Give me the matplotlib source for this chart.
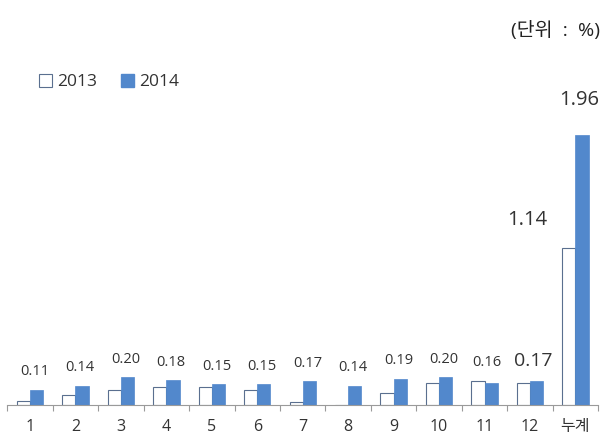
import numpy as np
import matplotlib
matplotlib.use("Agg")
from matplotlib import pyplot as plt
from matplotlib.patches import Patch

plt.rcParams['font.family'] = ['Open Sans', 'Noto Sans CJK KR', 'DejaVu Sans']

months = ["1", "2", "3", "4", "5", "6", "7", "8", "9", "10", "11", "12", "누계"]
y2013 = [0.03, 0.07, 0.11, 0.13, 0.13, 0.11, 0.02, 0.0, 0.085, 0.16, 0.17, 0.16, 1.14]
y2014 = [0.11, 0.14, 0.20, 0.18, 0.15, 0.15, 0.17, 0.14, 0.19, 0.20, 0.16, 0.17, 1.96]
labels2014 = ["0.11", "0.14", "0.20", "0.18", "0.15", "0.15", "0.17", "0.14", "0.19", "0.20", "0.16", "0.17", "1.96"]
label2013_total = "1.14"

blue = "#5288cc"
edge = "#5a6f8f"
axcol = "#9a9a9a"
txt = "#333333"

fig = plt.figure(figsize=(6.03, 4.44), dpi=100)
ax = fig.add_axes([0.012, 0.088, 0.98, 0.683])

x = np.arange(len(months))
w = 0.29
ax.bar(x - w/2, y2013, w, color="white", edgecolor=edge, linewidth=0.8)
ax.bar(x + w/2, y2014, w, color=blue, edgecolor=blue, linewidth=0.5)

ax.set_xlim(-0.5, len(months) - 0.5)
ax.set_ylim(0, 2.2)

for s in ["top", "right", "left"]:
    ax.spines[s].set_visible(False)
ax.spines["bottom"].set_color(axcol)
ax.set_yticks([])
ax.set_xticks(np.arange(-0.5, len(months)), minor=False)
ax.set_xticklabels([])
ax.tick_params(axis="x", which="major", length=4, color=axcol, direction="out")
ax.set_xticks(x, minor=True)
ax.set_xticklabels(months, minor=True, fontsize=11.5, color=txt)
ax.tick_params(axis="x", which="minor", length=0, pad=10)

# data labels (2014)
for i in range(len(months) - 1):
    if i < 10:
        ax.annotate(labels2014[i], (x[i] + w/2 - 0.04, y2014[i]), textcoords="offset points",
                    xytext=(0, 13), ha="center", va="center", fontsize=10.5, color=txt)
    elif i == 10:
        ax.annotate(labels2014[i], (x[i], y2014[i]), textcoords="offset points",
                    xytext=(2, 15), ha="center", va="center", fontsize=10.5, color=txt)
    else:
        ax.annotate(labels2014[i], (x[i], y2014[i]), textcoords="offset points",
                    xytext=(2, 15), ha="center", va="center", fontsize=14, color=txt)
n = len(months) - 1
ax.annotate(labels2014[n], (x[n] + w/2, y2014[n]), textcoords="offset points",
            xytext=(-2, 25), ha="center", va="center", fontsize=14.5, color=txt)
ax.annotate(label2013_total, (x[n] - w/2, y2013[n]), textcoords="offset points",
            xytext=(-30, 20), ha="center", va="center", fontsize=14.5, color=txt)

handles = [Patch(facecolor="white", edgecolor=edge, linewidth=0.8),
           Patch(facecolor=blue, edgecolor=blue)]
fig.legend(handles, ["2013", "2014"], loc="center left", bbox_to_anchor=(0.038, 0.815),
           ncol=2, frameon=False, handlelength=0.75, handleheight=0.75,
           handletextpad=0.3, columnspacing=1.4, fontsize=12.5, labelcolor=txt)

fig.text(0.995, 0.932, "(단위  :  %)", ha="right", va="center", fontsize=14, color="#222222")

fig.savefig("out.png", dpi=100)
